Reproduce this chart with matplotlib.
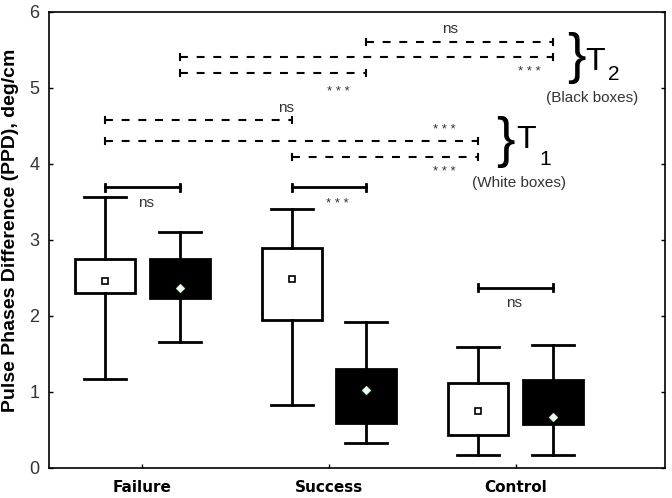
import matplotlib
matplotlib.use("Agg")
import matplotlib.pyplot as plt

plt.rcParams['font.family'] = ['Liberation Sans', 'DejaVu Sans']

groups = ['Failure', 'Success', 'Control']
group_pos = [1, 2, 3]

# T1 (white boxes)
white_mean = [2.46, 2.48, 0.75]
white_lo = [2.30, 1.95, 0.43]
white_hi = [2.745, 2.89, 1.11]
white_wlo = [1.165, 0.83, 0.165]
white_whi = [3.57, 3.41, 1.59]

# T2 (black boxes)
black_mean = [2.37, 1.02, 0.67]
black_lo = [2.23, 0.59, 0.58]
black_hi = [2.75, 1.30, 1.155]
black_wlo = [1.65, 0.32, 0.165]
black_whi = [3.10, 1.92, 1.62]

# brackets: (from, to, y, label, label x, label y, dashed)
brackets = [
    ('W0', 'B0', 3.69, 'ns', 1.02, 3.49, False),
    ('W1', 'B1', 3.69, '* * *', 2.045, 3.47, False),
    ('W2', 'B2', 2.37, 'ns', 2.99, 2.17, False),
    ('W0', 'W1', 4.58, 'ns', 1.77, 4.74, True),
    ('W0', 'W2', 4.30, '* * *', 2.62, 4.44, True),
    ('W1', 'W2', 4.09, '* * *', 2.62, 3.89, True),
    ('B1', 'B2', 5.60, 'ns', 2.65, 5.77, True),
    ('B0', 'B2', 5.41, '* * *', 3.075, 5.21, True),
    ('B0', 'B1', 5.20, '* * *', 2.05, 4.94, True),
]

offset = 0.2
white_pos = [g - offset for g in group_pos]
black_pos = [g + offset for g in group_pos]


def make_stats(mean, lo, hi, wlo, whi):
    stats = []
    for i in range(len(mean)):
        stats.append({'med': mean[i], 'q1': lo[i], 'q3': hi[i],
                      'whislo': wlo[i], 'whishi': whi[i],
                      'mean': mean[i], 'fliers': []})
    return stats


fig = plt.figure(figsize=(6.72, 4.98), dpi=100)
ax = fig.add_axes([0.0729, 0.0608, 0.9167, 0.9152])

common = dict(widths=0.32, capwidths=0.225, patch_artist=True, showmeans=True,
              whiskerprops=dict(color='black', lw=2),
              capprops=dict(color='black', lw=2),
              medianprops=dict(lw=0))

ax.bxp(make_stats(white_mean, white_lo, white_hi, white_wlo, white_whi),
       positions=white_pos,
       boxprops=dict(facecolor='white', edgecolor='black', lw=2),
       meanprops=dict(marker='s', markersize=5, markerfacecolor='white',
                      markeredgecolor='black', markeredgewidth=1.2),
       **common)
ax.bxp(make_stats(black_mean, black_lo, black_hi, black_wlo, black_whi),
       positions=black_pos,
       boxprops=dict(facecolor='black', edgecolor='black', lw=2),
       meanprops=dict(marker='D', markersize=4, markerfacecolor='white',
                      markeredgecolor='#c8f5c8', markeredgewidth=0.8),
       **common)

pos = {}
for i in range(3):
    pos['W%d' % i] = white_pos[i]
    pos['B%d' % i] = black_pos[i]

for a, b, y, label, lx, ly, dashed in brackets:
    x0, x1 = pos[a], pos[b]
    if dashed:
        ax.plot([x0, x1], [y, y], color='black', lw=1.5,
                linestyle=(0, (3.8, 4.2)))
        h = 0.04
        ax.plot([x0, x0], [y - h, y + h], color='black', lw=1.5)
        ax.plot([x1, x1], [y - h, y + h], color='black', lw=1.5)
    else:
        ax.plot([x0, x1], [y, y], color='black', lw=2)
        h = 0.05
        ax.plot([x0, x0], [y - h, y + h], color='black', lw=2)
        ax.plot([x1, x1], [y - h, y + h], color='black', lw=2)
    if label == 'ns':
        ax.text(lx, ly, label, ha='center', va='center', fontsize=11,
                color='#333333')
    else:
        ax.text(lx, ly, label, ha='center', va='center', fontsize=9.5,
                color='#333333')

# group annotations
ax.text(3.327, 5.40, '}', ha='center', va='center', fontsize=40)
ax.text(3.375, 5.24, 'T', ha='left', va='baseline', fontsize=23)
ax.text(3.493, 5.11, '2', ha='left', va='baseline', fontsize=15)
ax.text(3.407, 4.87, '(Black boxes)', ha='center', va='center', fontsize=11,
        color='#333333')

ax.text(2.946, 4.29, '}', ha='center', va='center', fontsize=40)
ax.text(3.005, 4.21, 'T', ha='left', va='baseline', fontsize=23)
ax.text(3.129, 3.99, '1', ha='left', va='baseline', fontsize=15)
ax.text(3.02, 3.75, '(White boxes)', ha='center', va='center', fontsize=11,
        color='#333333')

ax.set_xlim(0.5, 3.8)
ax.set_ylim(0, 6)
ax.set_xticks(group_pos)
ax.set_xticklabels(groups, fontsize=11, fontweight='bold', family='DejaVu Sans')
ax.set_yticks([0, 1, 2, 3, 4, 5, 6])
ax.set_yticklabels(['0', '1', '2', '3', '4', '5', '6'], fontsize=13,
                   color='#333333')
ax.tick_params(direction='in', length=3, width=1, right=True, pad=7)
ax.tick_params(axis='x', pad=9)
ax.set_ylabel('Pulse Phases Difference (PPD), deg/cm', fontsize=14,
              fontweight='bold')
ax.yaxis.set_label_coords(-0.048, 0.52)
for s in ax.spines.values():
    s.set_linewidth(1.2)

fig.savefig('out.png', dpi=100)
